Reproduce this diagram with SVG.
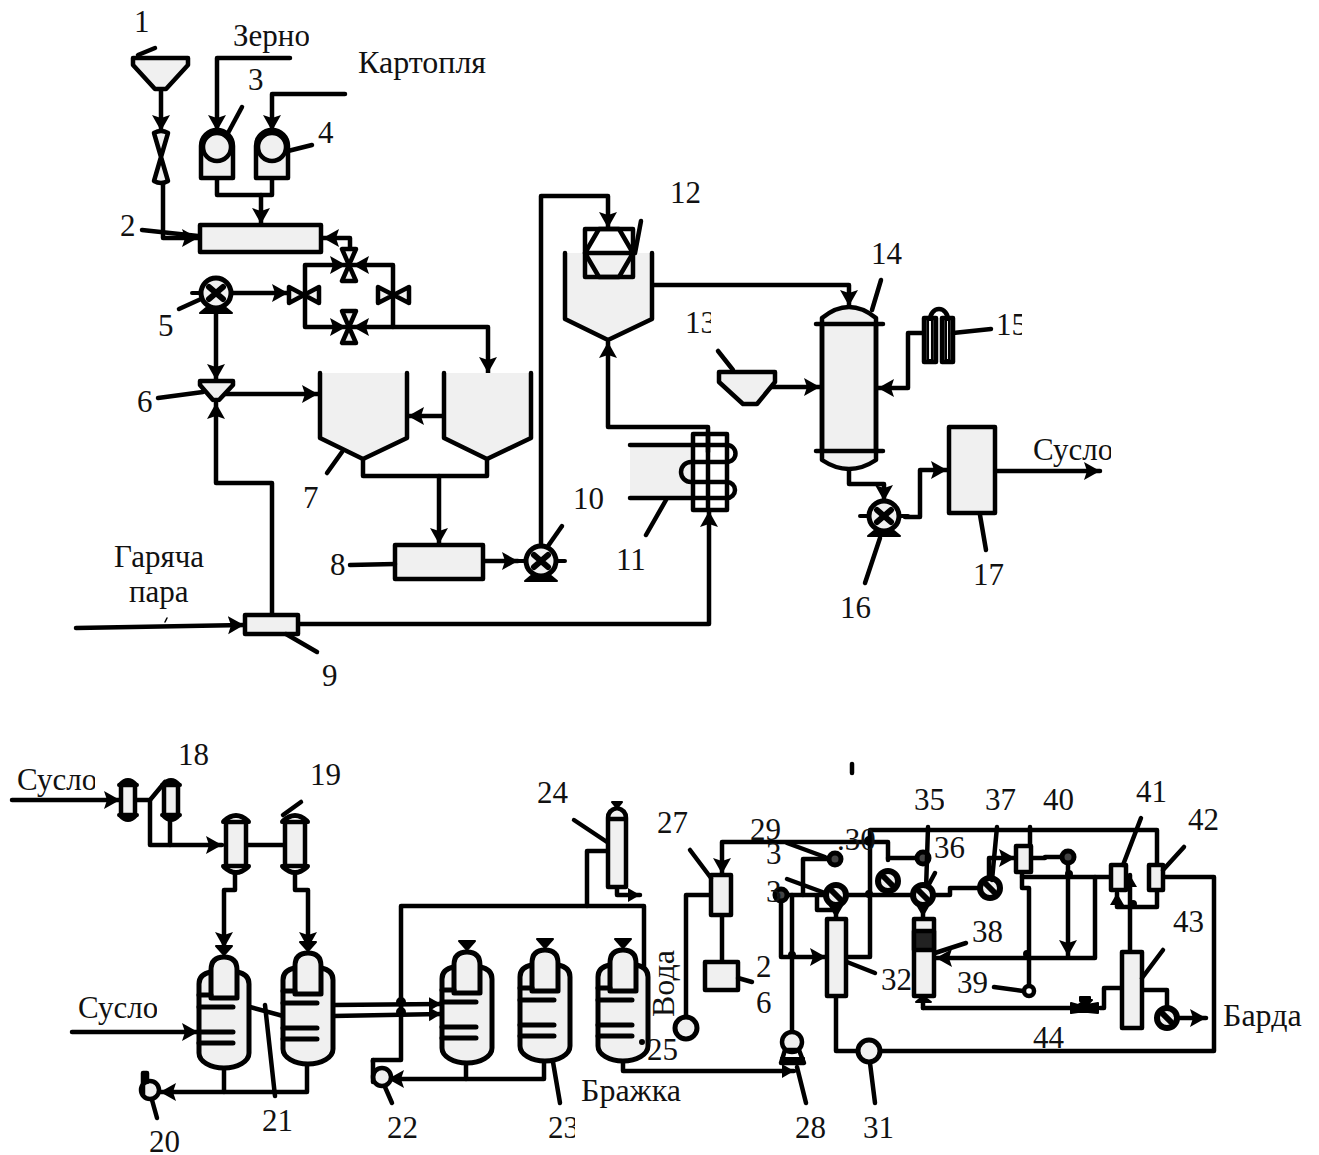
<svg xmlns="http://www.w3.org/2000/svg" width="1319" height="1155" viewBox="0 0 1319 1155">
<style>
text{font-family:"Liberation Serif","Times New Roman",serif;font-size:31px;fill:#111}
.w{font-size:32px}
.s,.s *{fill:none;stroke:#000;stroke-width:4.5;stroke-linejoin:round;stroke-linecap:round}
.f,.s .f{fill:#f0f0f0;stroke:#000;stroke-width:4.5;stroke-linejoin:round;stroke-linecap:round}
.k{fill:#000;stroke:#000;stroke-width:2;stroke-linejoin:round}
.a{marker-end:url(#ah)}
.b{marker-end:url(#ab)}
</style>
<defs>
<marker id="ah" markerUnits="userSpaceOnUse" markerWidth="20" markerHeight="20" refX="16" refY="9" orient="auto"><path d="M0 0L16 9L0 18L3 9Z" fill="#000"/></marker>
<marker id="ab" markerUnits="userSpaceOnUse" markerWidth="16" markerHeight="16" refX="12" refY="7" orient="auto"><path d="M0 0L12 7L0 14Z" fill="#000"/></marker>
<clipPath id="c1"><rect x="225" y="15" width="84" height="45"/></clipPath>
<clipPath id="c2"><rect x="675" y="300" width="36" height="45"/></clipPath>
<clipPath id="c3"><rect x="990" y="300" width="32" height="45"/></clipPath>
<clipPath id="c4"><rect x="1025" y="425" width="86" height="45"/></clipPath>
<clipPath id="c5"><rect x="10" y="760" width="85" height="45"/></clipPath>
<clipPath id="c6"><rect x="70" y="990" width="87" height="45"/></clipPath>
<clipPath id="c7"><rect x="540" y="1105" width="35" height="45"/></clipPath>
<clipPath id="c8"><rect x="905" y="780" width="39" height="40"/></clipPath>
<g id="pump"><circle r="15" style="fill:#f0f0f0;stroke:#000;stroke-width:5"/><path d="M-7 -6L7 6M7 -6L-7 6" style="stroke:#000;stroke-width:6;fill:none;stroke-linecap:round"/><path d="M-16 20H16L10 15H-10Z" style="fill:#000;stroke:#000;stroke-width:2"/><path d="M-24 0H-15M15 0H24" style="stroke:#000;stroke-width:4"/></g>
<g id="ferm"><path class="f" d="M-25 81V12Q-25 2 -13 0H13Q25 2 25 12V81A25 15 0 0 1 -25 81Z" style="stroke-width:5"/><path class="f" d="M-13 26V-2Q-13 -15 0 -15Q13 -15 13 -2V26Z" style="stroke-width:5"/><path d="M-25 23H-13M-25 35H9M-25 60H9M-25 71H9" style="fill:none;stroke:#000;stroke-width:5;stroke-linecap:round"/><path d="M-8 -26H8L0 -17Z" style="fill:#000;stroke:#000;stroke-width:2"/></g>
<g id="hx"><circle r="10" style="fill:#f0f0f0;stroke:#000;stroke-width:6"/><path d="M-6 -6L6 6" style="stroke:#000;stroke-width:6"/></g>
<g id="dot"><circle r="6" style="fill:#444;stroke:#000;stroke-width:5"/></g>
<g id="vtube"><rect class="f" x="-7" y="-15" width="14" height="30"/><path d="M-9 -15H9M-9 15H9" style="stroke:#000;stroke-width:4;stroke-linecap:round"/><path d="M-9 -16Q0 -26 9 -16ZM-9 16Q0 26 9 16Z" style="fill:#000;stroke:#000;stroke-width:2"/></g>
<g id="vtube2"><rect class="f" x="-10" y="-22" width="20" height="44"/><path d="M-13 -22H13M-13 22H13" style="stroke:#000;stroke-width:4;stroke-linecap:round"/><path d="M-12 -23Q0 -34 12 -23M-12 23Q0 34 12 23" style="fill:none;stroke:#000;stroke-width:5"/></g>
</defs>

<g id="connectors" class="s">
<path class="a" d="M161 89V131"/>
<path class="a" d="M163 183V238H198"/>
<path class="a" d="M290 58H217V131"/>
<path class="a" d="M345 94H272V131"/>
<path d="M217 178V195H272V178"/>
<path class="a" d="M261 195V224"/>
<path class="a" d="M350 248V238H323"/>
<path class="a" d="M305 295V265H346"/>
<path class="a" d="M393 295V265H353"/>
<path class="a" d="M305 295V327H346"/>
<path class="a" d="M393 295V327H353"/>
<path class="a" d="M230 293H288"/>
<path class="a" d="M393 327H488V373"/>
<path class="a" d="M216 313V380"/>
<path class="a" d="M225 394H318"/>
<path class="a" d="M272 614V483H216V403"/>
<path class="a" d="M444 416H408"/>
<path d="M363 459V476H487V459"/>
<path class="a" d="M439 476V544"/>
<path class="a" d="M483 561H518"/>
<path class="a" d="M76 628L244 625"/>
<path class="a" d="M298 624H709V511"/>
<path d="M165 622L167 618" style="stroke-width:1.5"/>
<path class="a" d="M541 546V196H608V228"/>
<path class="a" d="M652 285H849V306"/>
<path class="a" d="M708 452V427H608V342"/>
<path class="a" d="M770 387H820"/>
<path class="a" d="M922 333H908V388H878"/>
<path class="a" d="M849 467V484H884V501"/>
<path class="a" d="M905 517H920V470H947"/>
<path class="a" d="M995 471H1100"/>

<path class="a" d="M12 800H120"/>
<path d="M137 800H150L165 782"/>
<path class="a" d="M150 800V845H222"/>
<path d="M170 820V845"/>
<path d="M248 845H285"/>
<path class="a" d="M235 873V890H224V948"/>
<path class="a" d="M295 873V890H308V948"/>
<path class="a" d="M72 1032H198"/>
<path class="a" d="M224 1068V1092H160"/>
<path d="M224 1092H307V1064"/>
<path d="M250 1007L283 1016"/>
<path class="b" d="M333 1005L441 1004"/>
<path class="b" d="M333 1016L441 1014"/>
<circle class="k" cx="401" cy="1002" r="4"/>
<circle class="k" cx="401" cy="1012" r="4"/>
<path d="M373 1062V1060H401V906H644V972"/>
<path d="M587 906V851H607"/>
<path class="b" d="M617 887V895H640"/>
<path class="a" d="M544 1062V1079H388"/>
<path d="M466 1062V1079"/>
<path class="b" d="M623 1062V1071H794"/>

<path d="M686 1017V895H711"/>
<path class="a" d="M888 860V842H722V874"/>
<path d="M722 915V961"/>
<path d="M835 859H803V895"/>
<path d="M781 895H913"/>
<path d="M933 895H950V888H982"/>
<path class="a" d="M781 895V957H826"/>
<path d="M792 895V1032"/>
<circle class="k" cx="792" cy="955" r="3"/>
<circle class="k" cx="869" cy="894" r="3"/>
<circle class="k" cx="869" cy="841" r="4"/>
<path class="b" d="M817 895V910H836V918"/>
<path d="M846 957H870V830H1157V865"/>
<path d="M888 858H923"/>
<path d="M836 996V1051H858"/>
<path d="M880 1051H1214V877H1163"/>
<path class="b" d="M923 905V917"/>
<path d="M923 1008H1071"/>
<path d="M923 1008V1002"/>
<path d="M1100 1008H1104V988H1122"/>
<path d="M1142 990H1167V1008"/>
<path class="a" d="M1177 1018H1206"/>
<path class="a" d="M989 880V858H1015"/>
<path d="M1030 827V846"/>
<path d="M1031 858H1045V857H1062"/>
<path class="a" d="M1068 857V956"/>
<path d="M1022 872V888H1029V985"/>
<path d="M1022 877H1110"/>
<path class="a" d="M1095 877V958H936"/>
<circle class="k" cx="1027" cy="954" r="3"/>
<circle class="k" cx="1069" cy="874" r="3"/>
<path class="b" d="M1157 890V907H1117V893"/>
<path class="b" d="M1130 952V875"/>
<circle class="k" cx="1133" cy="904" r="3"/>
<path d="M852 764V773"/>
</g>

<g id="node1" class="s"><path class="f" d="M133 58H188V65L166 89H155L133 65Z"/><path d="M138 55L155 48"/></g>
<g id="valve1" class="s"><path class="f" d="M154 133Q161 129 168 133L154 181Q161 185 168 181Z"/></g>
<g id="node2" class="s"><rect class="f" x="200" y="225" width="121" height="27"/><path d="M142 230L198 236"/></g>
<g id="node3" class="s"><path class="f" d="M201 178V146A16 16 0 0 1 233 146V178Z"/><circle class="f" cx="217" cy="147" r="14"/><path d="M242 107L228 133"/></g>
<g id="node4" class="s"><path class="f" d="M256 178V146A16 16 0 0 1 288 146V178Z"/><circle class="f" cx="272" cy="147" r="14"/><path d="M312 145L288 151"/></g>
<g id="valves" class="s">
<path class="f" d="M342 249H356L342 281H356Z"/>
<path class="f" d="M342 311H356L342 343H356Z"/>
<path class="f" d="M289 287V303L319 287V303Z"/>
<path class="f" d="M378 287V303L409 287V303Z"/>
</g>
<g id="node5" class="s"><use href="#pump" x="216" y="293"/><path d="M179 309L201 299"/></g>
<g id="node6" class="s"><path class="f" d="M200 381H233V385L219 400H213L200 385Z"/><path d="M158 398L203 392"/></g>
<g id="node7" class="s">
<path class="f" d="M320 373V438L363 459L407 438V373" style="stroke:none"/><path d="M320 373V438L363 459L407 438V373"/>
<path class="f" d="M444 373V438L487 459L531 438V373" style="stroke:none"/><path d="M444 373V438L487 459L531 438V373"/>
<path d="M327 473L342 452"/></g>
<g id="node8" class="s"><rect class="f" x="395" y="545" width="88" height="34"/><path d="M350 565L395 564"/></g>
<g id="node9" class="s"><rect class="f" x="245" y="615" width="53" height="19"/><path d="M286 634L317 652"/></g>
<g id="node10" class="s"><use href="#pump" x="541" y="561"/><path d="M548 546L562 526"/></g>
<g id="node11" class="s">
<path class="f" d="M630 445H693V498H630Z" style="stroke:none"/>
<rect x="693" y="434" width="34" height="76"/><path d="M708 434V510"/>
<path d="M630 445H727A8.5 8.5 0 0 1 727 462H691A10 10 0 0 0 691 482H727A8 8 0 0 1 727 498H630"/>
<path d="M666 500L646 535"/></g>
<g id="node12" class="s">
<path class="f" d="M565 253V319L608 340L652 319V253" style="stroke:none"/><path d="M565 253V319L608 340L652 319V253"/>
<rect x="585" y="229" width="48" height="48"/><path d="M599 229L585 253L599 277H619L633 253L619 229ZM585 253H633"/>
<path d="M641 221L635 253"/></g>
<g id="node13" class="s"><path class="f" d="M719 372H775V382L757 404H743L719 382Z"/><path d="M718 351L733 370"/></g>
<g id="node14" class="s">
<path class="f" d="M822 324V318Q849 296 876 318V460Q849 478 822 460Z"/>
<path d="M822 324V451M876 324V451M816 324H883M816 451H883"/>
<path d="M881 280L872 310"/></g>
<g id="node15" class="s">
<path d="M930 320A9 11 0 0 1 948 320"/>
<rect x="924" y="318" width="12" height="44" style="fill:#444"/><rect class="f" x="928" y="320" width="4" height="40" style="stroke-width:2"/>
<rect x="942" y="318" width="11" height="44" style="fill:#444"/><rect class="f" x="946" y="320" width="3" height="40" style="stroke-width:2"/>
<path d="M991 329L953 333"/></g>
<g id="node16" class="s"><use href="#pump" x="884" y="516"/><path d="M880 538L865 583"/></g>
<g id="node17" class="s"><rect class="f" x="949" y="427" width="46" height="86"/><path d="M980 515L986 550"/></g>

<g id="node18" class="s"><use href="#vtube" x="128" y="800"/><use href="#vtube" x="171" y="800"/></g>
<g id="node19" class="s"><use href="#vtube2" x="236" y="844"/><use href="#vtube2" x="295" y="844"/><path d="M283 815L301 802"/></g>
<g id="node20" class="s"><circle class="f" cx="150" cy="1090" r="9"/><path d="M143 1073V1095M143 1073H147V1082"/><path d="M152 1100L157 1118"/></g>
<g id="node21" class="s"><use href="#ferm" x="224" y="972"/><use href="#ferm" x="308" y="968"/><path d="M265 1005L275 1096"/></g>
<g id="node22" class="s"><circle class="f" cx="382" cy="1077" r="9"/><path d="M373 1060V1082"/><path d="M385 1087L392 1103"/></g>
<g id="node23" class="s"><use href="#ferm" x="467" y="967"/><use href="#ferm" x="545" y="965"/><use href="#ferm" x="623" y="965"/><path d="M553 1062L560 1103"/><circle class="k" cx="642" cy="1042" r="2"/></g>
<g id="node24" class="s"><path class="f" d="M608 887V818Q608 810 617 808Q626 810 626 818V887Z"/><path class="k" d="M612 802H622L617 808Z"/><path d="M609 819H625"/><path d="M574 820L607 842"/></g>
<g id="node25" class="s"><circle cx="686" cy="1028" r="11" class="f" style="stroke-width:5"/></g>
<g id="node26" class="s"><rect class="f" x="705" y="962" width="33" height="28"/><path d="M738 978L752 982"/></g>
<g id="node27" class="s"><rect class="f" x="711" y="875" width="20" height="40"/><path d="M690 850L711 878"/></g>
<g id="node28" class="s"><circle class="f" cx="792" cy="1042" r="10"/><path d="M785 1050H799L804 1063H781Z"/><path class="k" d="M781 1058H804V1064H781Z"/><path d="M797 1067L806 1103"/></g>
<g id="node29" class="s"><use href="#dot" x="835" y="859"/><path d="M787 843L825 857"/></g>
<g id="node30" class="s"><use href="#dot" x="781" y="895"/></g>
<g id="node31" class="s"><circle class="f" cx="869" cy="1051" r="11" style="stroke-width:5"/><path d="M870 1063L875 1103"/></g>
<g id="node32" class="s"><rect class="f" x="827" y="919" width="19" height="77"/><path d="M847 962L875 973"/></g>
<g id="node33" class="s"><use href="#hx" x="836" y="895"/><path d="M787 879L825 893"/></g>
<g id="node34" class="s"><use href="#hx" x="888" y="881"/></g>
<g id="node35" class="s"><use href="#dot" x="923" y="858"/><path d="M928 827L926 890"/></g>
<g id="node36" class="s"><use href="#hx" x="923" y="895"/><path d="M935 873L928 886"/></g>
<g id="node37" class="s"><use href="#hx" x="990" y="888"/><path d="M997 827L992 880"/></g>
<g id="node38" class="s"><rect class="f" x="914" y="919" width="20" height="77"/><rect x="914" y="931" width="20" height="19" style="fill:#222"/><path class="k" d="M916 1002L923 996L931 1002Z"/><path d="M966 943L935 953"/></g>
<g id="node39" class="s"><circle cx="1029" cy="991" r="5" style="fill:#fff"/><path d="M994 987L1023 991"/></g>
<g id="node40" class="s"><rect class="f" x="1016" y="846" width="15" height="26"/><use href="#dot" x="1068" y="857"/></g>
<g id="node41" class="s"><rect class="f" x="1111" y="865" width="15" height="25"/><path d="M1141 818L1123 865"/></g>
<g id="node42" class="s"><rect class="f" x="1149" y="865" width="14" height="25"/><path d="M1184 847L1163 870"/></g>
<g id="node43" class="s"><rect class="f" x="1122" y="952" width="20" height="76"/><path d="M1142 978L1163 950"/><use href="#hx" x="1167" y="1018"/></g>
<g id="valve44"><path class="k" d="M1071 1003L1078 1005L1085 1000H1092L1087 1005L1098 1003V1013L1088 1012H1078L1071 1013Z"/><path class="k" d="M1080 997H1090V1001H1080Z"/></g>

<g id="labels">
<text x="134" y="32">1</text>
<text x="233" y="46" clip-path="url(#c1)">Зерно</text>
<text class="w" x="358" y="73">Картопля</text>
<text x="248" y="90">3</text>
<text x="318" y="143">4</text>
<text x="120" y="236">2</text>
<text x="158" y="336">5</text>
<text x="137" y="412">6</text>
<text x="303" y="508">7</text>
<text x="330" y="575">8</text>
<text x="114" y="567">Гаряча</text>
<text x="129" y="602">пара</text>
<text x="322" y="686">9</text>
<text x="573" y="509">10</text>
<text x="616" y="570">11</text>
<text x="670" y="203">12</text>
<text x="685" y="333" clip-path="url(#c2)">13</text>
<text x="871" y="264">14</text>
<text x="996" y="335" clip-path="url(#c3)">15</text>
<text x="840" y="618">16</text>
<text x="973" y="585">17</text>
<text x="1033" y="460" clip-path="url(#c4)">Сусло</text>
<text x="17" y="790" clip-path="url(#c5)">Сусло</text>
<text x="178" y="765">18</text>
<text x="310" y="785">19</text>
<text x="78" y="1018" clip-path="url(#c6)">Сусло</text>
<text x="149" y="1152">20</text>
<text x="262" y="1131">21</text>
<text x="387" y="1138">22</text>
<text x="548" y="1138" clip-path="url(#c7)">23</text>
<text x="537" y="803">24</text>
<text x="647" y="1060">25</text>
<text class="w" x="581" y="1101">Бражка</text>
<text class="w" transform="translate(674 1017) rotate(-90)">Вода</text>
<text x="756" y="977">2</text>
<text x="756" y="1013">6</text>
<text x="657" y="833">27</text>
<text x="795" y="1138">28</text>
<text x="750" y="840">29</text>
<text x="766" y="864">3</text>
<text x="766" y="902">3</text>
<text x="837" y="850">.30</text>
<text x="863" y="1138">31</text>
<text x="881" y="990">32</text>
<text x="914" y="810" clip-path="url(#c8)">35</text>
<text x="934" y="858">36</text>
<text x="985" y="810">37</text>
<text x="972" y="942">38</text>
<text x="957" y="993">39</text>
<text x="1043" y="810">40</text>
<text x="1136" y="802">41</text>
<text x="1188" y="830">42</text>
<text x="1173" y="932">43</text>
<text x="1033" y="1048">44</text>
<text class="w" x="1223" y="1026">Барда</text>
</g>
</svg>
